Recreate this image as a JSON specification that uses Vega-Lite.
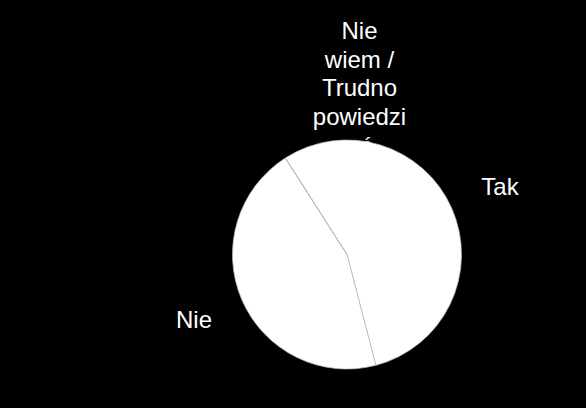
{
  "$schema": "https://vega.github.io/schema/vega-lite/v6.json",
  "width": 229,
  "height": 229,
  "autosize": {"type": "none"},
  "padding": {"left": 232.5, "top": 140, "right": 124.5, "bottom": 39},
  "background": "black",
  "config": {"view": {"stroke": null}, "text": {"font": "Liberation Sans"}},
  "data": {
    "values": [
      {"label": "Tak", "share": 55},
      {"label": "Nie", "share": 45},
      {"label": "Nie wiem / Trudno powiedzieć", "share": 0}
    ]
  },
  "layer": [
    {
      "transform": [{"filter": "datum.share === 0"}],
      "mark": {
        "type": "text",
        "text": ["Nie", "wiem /", "Trudno", "powiedzi", "eć"],
        "theta": 0.0561,
        "radius": 222.85,
        "fontSize": 24,
        "lineHeight": 28.7,
        "align": "center",
        "baseline": "middle",
        "color": "white"
      },
      "encoding": {}
    },
    {
      "mark": {"type": "arc", "fill": "white", "stroke": "#bbbbbb", "strokeWidth": 0.75},
      "encoding": {
        "theta": {"field": "share", "type": "quantitative", "stack": true, "scale": {"range": [2.8868, 9.17]}},
        "detail": {"field": "label"}
      }
    },
    {
      "mark": {"type": "text", "radius": 167, "fontSize": 24, "align": "center", "baseline": "middle", "color": "white"},
      "encoding": {
        "theta": {"field": "share", "type": "quantitative", "stack": true},
        "text": {"field": "label"},
        "opacity": {"condition": {"test": "datum.share === 0", "value": 0}, "value": 1}
      }
    }
  ]
}
